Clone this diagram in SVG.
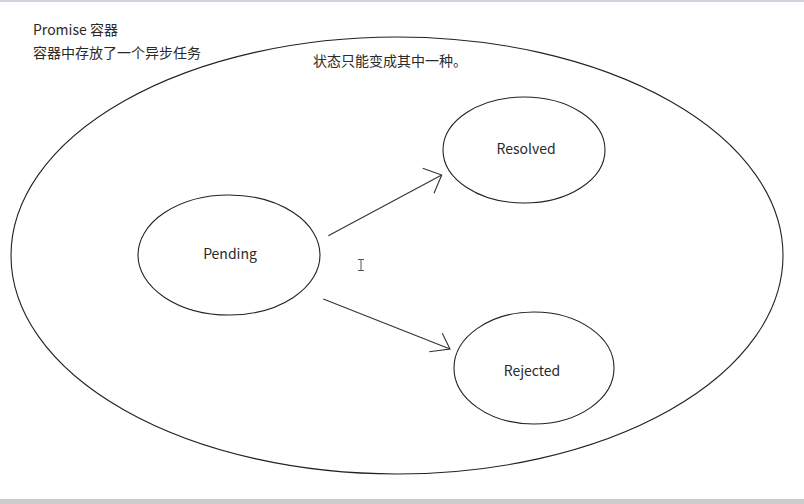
<svg xmlns="http://www.w3.org/2000/svg" width="804" height="504" viewBox="0 0 804 504">
<style>
.e{fill:none;stroke:#222;stroke-width:1.1}
.c{fill:none;stroke:#333;stroke-width:1.1}
text{font-family:"Microsoft YaHei","Noto Sans CJK SC","Noto Sans",sans-serif;font-size:14px;fill:#2a2a2a}
.l{text-anchor:middle}
</style>
<rect x="0" y="0" width="804" height="504" fill="#fff"/>
<rect x="0" y="0" width="804" height="2" fill="#cdd4de"/>
<rect x="0" y="499" width="804" height="5" fill="#cccccc"/>
<g id="container">
<ellipse class="e" cx="397" cy="255.5" rx="386" ry="218.5"/>
</g>
<text x="33" y="35">Promise 容器</text>
<text x="33" y="58">容器中存放了一个异步任务</text>
<text x="313" y="66">状态只能变成其中一种。</text>
<g id="pending">
<ellipse class="e" cx="229" cy="255" rx="91" ry="60"/>
<text class="l" x="230" y="259">Pending</text>
</g>
<g id="resolved">
<ellipse class="e" cx="524" cy="150" rx="81" ry="53"/>
<text class="l" x="526" y="154">Resolved</text>
</g>
<g id="rejected">
<ellipse class="e" cx="534" cy="368" rx="80" ry="56"/>
<text class="l" x="532" y="376">Rejected</text>
</g>
<g id="connectors">
<path class="c" d="M328.3,235.7 L441.7,175 M422.7,168.3 L441.7,175 L434,193.3"/>
<path class="c" d="M323.3,299 L450,349 M442.3,333.3 L450,349 L429.3,351.7"/>
</g>
<path d="M358,259.5 H364 M361,259.5 V270.5 M358,270.5 H364" stroke="#555" stroke-width="1" fill="none"/>
</svg>
